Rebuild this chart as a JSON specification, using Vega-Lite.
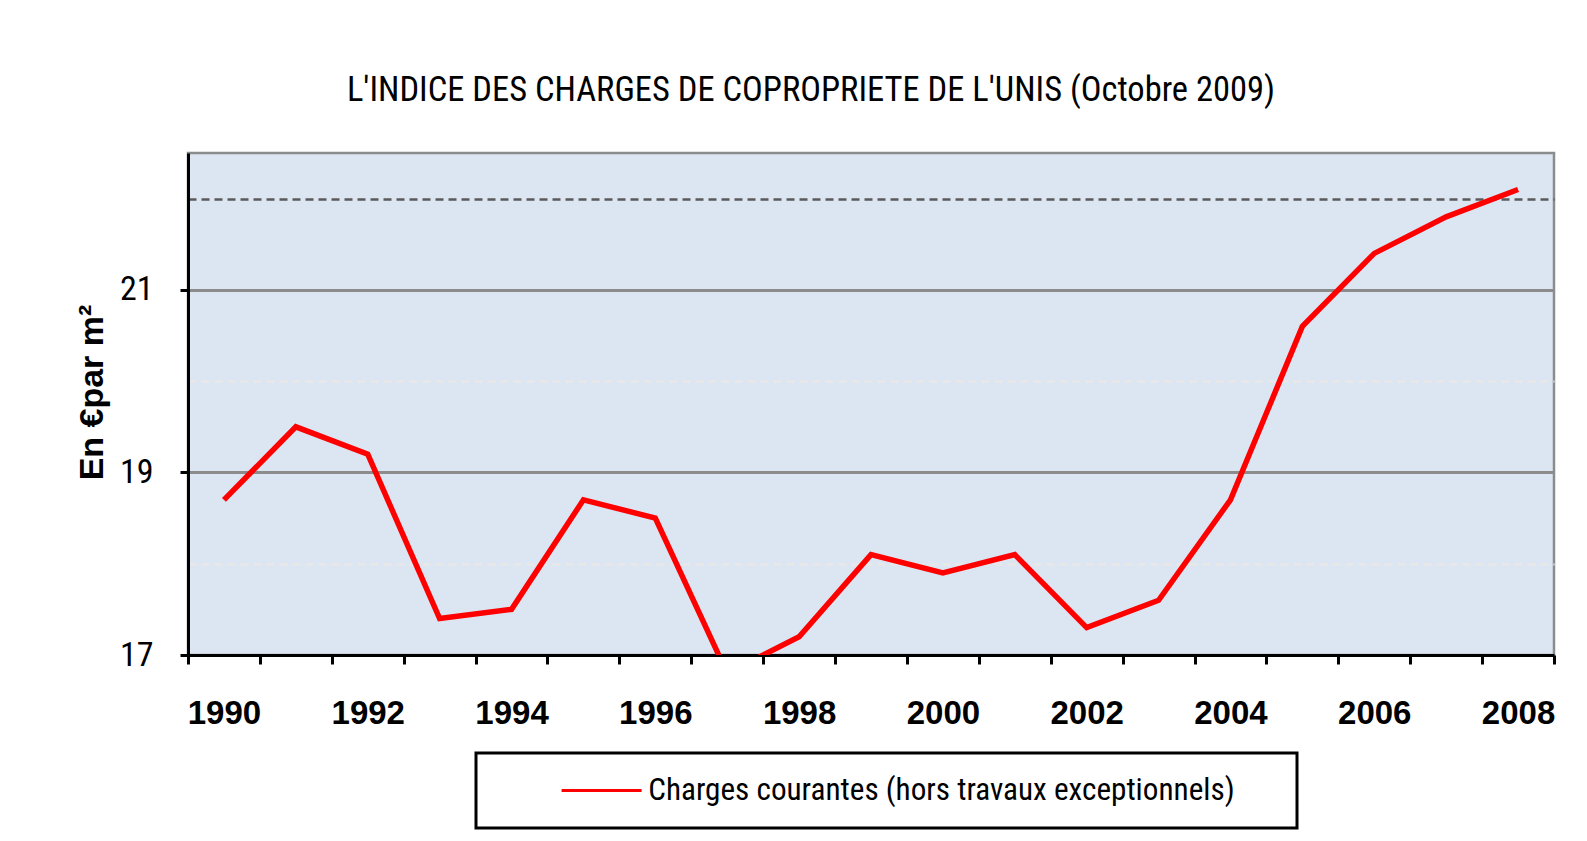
{
  "$schema": "https://vega.github.io/schema/vega-lite/v6.json",
  "width": 1366,
  "height": 502,
  "autosize": "none",
  "padding": {"left": 188, "top": 153, "right": 33, "bottom": 186},
  "background": "white",
  "title": {
    "text": "L'INDICE DES CHARGES DE COPROPRIETE DE L'UNIS (Octobre 2009)",
    "font": "Roboto Condensed, Open Sans Condensed, Liberation Sans Narrow, Roboto",
    "fontSize": 34.5,
    "fontWeight": "normal",
    "color": "black",
    "anchor": "middle",
    "frame": "group",
    "dx": -60,
    "offset": 18,
    "baseline": "alphabetic"
  },
  "config": {
    "view": {"fill": "#DCE6F2", "stroke": "#8C8C8C", "strokeWidth": 2.5}
  },
  "data": {
    "values": [
      {"year": 1990, "value": 18.7},
      {"year": 1991, "value": 19.5},
      {"year": 1992, "value": 19.2},
      {"year": 1993, "value": 17.4},
      {"year": 1994, "value": 17.5},
      {"year": 1995, "value": 18.7},
      {"year": 1996, "value": 18.5},
      {"year": 1997, "value": 16.8},
      {"year": 1998, "value": 17.2},
      {"year": 1999, "value": 18.1},
      {"year": 2000, "value": 17.9},
      {"year": 2001, "value": 18.1},
      {"year": 2002, "value": 17.3},
      {"year": 2003, "value": 17.6},
      {"year": 2004, "value": 18.7},
      {"year": 2005, "value": 20.6},
      {"year": 2006, "value": 21.4},
      {"year": 2007, "value": 21.8},
      {"year": 2008, "value": 22.1}
    ]
  },
  "mark": {"type": "line", "strokeWidth": 5.5, "clip": true},
  "encoding": {
    "x": {
      "field": "year",
      "type": "ordinal",
      "bandPosition": 0.5,
      "scale": {"type": "band", "paddingInner": 0, "paddingOuter": 0},
      "axis": {
        "title": null,
        "tickBand": "extent",
        "domainColor": "black",
        "domainWidth": 3,
        "tickColor": "black",
        "tickWidth": 3,
        "tickSize": 9,
        "labelFont": "Liberation Sans, Arial, sans-serif",
        "labelFontSize": 33,
        "labelFontWeight": "bold",
        "labelColor": "black",
        "labelPadding": 33,
        "labelAngle": 0,
        "labelOverlap": false,
        "labelExpr": "toNumber(datum.value) % 2 == 0 ? datum.label : ''",
        "grid": false
      }
    },
    "y": {
      "field": "value",
      "type": "quantitative",
      "scale": {"domain": [17, 22.5], "nice": false, "zero": false},
      "axis": {
        "title": "En €par m²",
        "values": [17, 18, 19, 20, 21, 22],
        "labelExpr": "datum.value % 2 == 1 ? datum.label : ''",
        "grid": true,
        "gridColor": {
          "condition": [
            {"test": "datum.value == 22", "value": "#5A5A5A"},
            {"test": "datum.value == 18 || datum.value == 20", "value": "#E8E8E8"}
          ],
          "value": "#8C8C8C"
        },
        "gridDash": {
          "condition": {"test": "datum.value % 2 == 1", "value": []},
          "value": [8, 5]
        },
        "gridWidth": {
          "condition": {"test": "datum.value % 2 == 1", "value": 3},
          "value": 2.5
        },
        "domainColor": "black",
        "domainWidth": 3,
        "tickColor": "black",
        "tickWidth": 3,
        "tickSize": 8,
        "tickOpacity": {
          "condition": {"test": "datum.value % 2 == 1", "value": 1},
          "value": 0
        },
        "labelFont": "Roboto Condensed, Open Sans Condensed, Liberation Sans Narrow, Roboto",
        "labelFontSize": 34,
        "labelColor": "black",
        "labelPadding": 27,
        "titleFont": "Liberation Sans, Arial, sans-serif",
        "titleFontSize": 34,
        "titleFontWeight": "bold",
        "titleColor": "black",
        "titleX": -86,
        "titleY": 239,
        "titleAngle": 270,
        "titleAlign": "center",
        "titleBaseline": "alphabetic"
      }
    },
    "color": {
      "datum": "Charges courantes (hors travaux exceptionnels)",
      "type": "nominal",
      "scale": {"range": ["#FF0000"]},
      "legend": {
        "orient": "none",
        "legendX": 288,
        "legendY": 600,
        "title": ".",
        "titleOrient": "right",
        "titleColor": "white",
        "titleFontSize": 10,
        "titlePadding": 37,
        "strokeColor": "black",
        "fillColor": "white",
        "padding": 22,
        "symbolType": "M-4,0L4,0",
        "symbolStrokeWidth": 3,
        "symbolSize": 400,
        "symbolOffset": 88,
        "labelFont": "Roboto Condensed, Open Sans Condensed, Liberation Sans Narrow, Roboto",
        "labelFontSize": 31.2,
        "labelColor": "black",
        "labelOffset": 31,
        "labelLimit": 1200,
        "encode": {"legend": {"update": {"strokeWidth": {"value": 3}}}}
      }
    }
  }
}
